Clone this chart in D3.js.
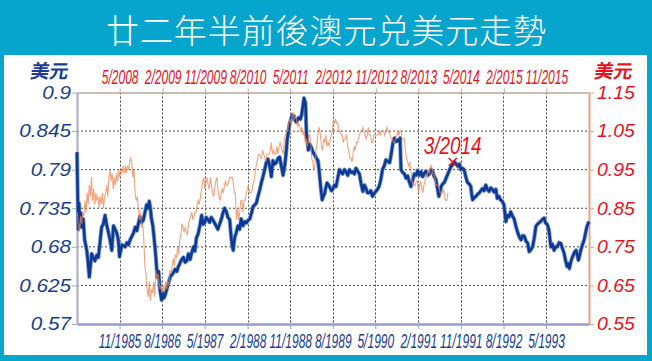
<!DOCTYPE html>
<html><head><meta charset="utf-8">
<script src="https://cdn.jsdelivr.net/npm/d3@7"></script>
<style>html,body{margin:0;padding:0;background:#06a5ce;}svg{display:block}</style>
</head><body>
<svg id="c" width="652" height="361"></svg>
<script>
// ---------- DATA ----------
const titleText = "廿二年半前後澳元兑美元走勢";
const unitLabel = "美元";
const leftTicks = [0.57, 0.625, 0.68, 0.735, 0.79, 0.845, 0.9];
const rightTicks = [0.55, 0.65, 0.75, 0.85, 0.95, 1.05, 1.15];
const bottomTickLabels = ["11/1985","8/1986","5/1987","2/1988","11/1988","8/1989","5/1990","2/1991","11/1991","8/1992","5/1993"];
const topTickLabels = ["5/2008","2/2009","11/2009","8/2010","5/2011","2/2012","11/2012","8/2013","5/2014","2/2015","11/2015"];
const bottomDomain = ["1985-02-01","1994-02-01"];
const topDomain = ["2007-08-01","2016-08-01"];
const markerLabel = "3/2014";
const markerDate = "2014-03-10";
const markerValue = 0.801;

// 1985-1994 series (left axis)
const blueDates = ["1985-02-01","1985-02-05","1985-02-09","1985-02-14","1985-02-19","1985-02-25","1985-03-03","1985-03-13","1985-03-22","1985-04-04","1985-04-12","1985-04-21","1985-04-28","1985-05-06","1985-05-16","1985-05-27","1985-06-08","1985-06-18","1985-06-28","1985-07-09","1985-07-20","1985-07-31","1985-08-10","1985-08-22","1985-09-01","1985-09-12","1985-09-23","1985-10-04","1985-10-14","1985-10-24","1985-11-01","1985-11-16","1985-12-07","1985-12-18","1985-12-28","1986-01-08","1986-01-19","1986-01-30","1986-02-10","1986-02-20","1986-03-01","1986-03-12","1986-03-22","1986-04-03","1986-04-14","1986-04-24","1986-05-04","1986-05-11","1986-05-18","1986-05-25","1986-06-03","1986-06-10","1986-06-22","1986-07-01","1986-07-10","1986-07-19","1986-07-29","1986-08-05","1986-08-13","1986-08-22","1986-09-01","1986-09-11","1986-09-22","1986-10-02","1986-10-13","1986-10-24","1986-11-04","1986-11-14","1986-11-25","1986-12-05","1986-12-16","1986-12-27","1987-01-07","1987-01-17","1987-01-28","1987-02-08","1987-02-19","1987-02-28","1987-03-10","1987-03-20","1987-04-01","1987-04-12","1987-04-21","1987-05-01","1987-05-11","1987-05-22","1987-06-02","1987-06-13","1987-06-24","1987-07-04","1987-07-14","1987-07-25","1987-08-05","1987-08-16","1987-08-27","1987-09-07","1987-09-18","1987-09-28","1987-10-09","1987-10-19","1987-10-25","1987-11-01","1987-11-10","1987-11-20","1987-12-01","1987-12-12","1987-12-22","1988-01-03","1988-01-14","1988-01-25","1988-02-05","1988-02-16","1988-02-26","1988-03-07","1988-03-18","1988-03-28","1988-04-08","1988-04-19","1988-04-30","1988-05-10","1988-05-21","1988-06-01","1988-06-11","1988-06-22","1988-07-03","1988-07-13","1988-07-24","1988-08-04","1988-08-14","1988-08-25","1988-09-05","1988-09-16","1988-09-28","1988-10-06","1988-10-13","1988-10-21","1988-10-28","1988-11-06","1988-11-13","1988-11-25","1988-12-03","1988-12-10","1988-12-25","1989-01-05","1989-01-13","1989-01-21","1989-01-28","1989-02-03","1989-02-07","1989-02-13","1989-02-19","1989-02-25","1989-03-06","1989-03-16","1989-03-27","1989-04-07","1989-04-18","1989-04-28","1989-05-05","1989-05-10","1989-05-18","1989-05-25","1989-06-02","1989-06-10","1989-06-18","1989-06-25","1989-07-05","1989-07-13","1989-07-23","1989-08-01","1989-08-12","1989-08-22","1989-09-02","1989-09-13","1989-09-24","1989-10-04","1989-10-15","1989-10-25","1989-11-05","1989-11-16","1989-11-27","1989-12-07","1989-12-18","1989-12-28","1990-01-08","1990-01-19","1990-01-30","1990-02-10","1990-02-20","1990-03-01","1990-03-12","1990-03-22","1990-04-02","1990-04-13","1990-04-24","1990-05-04","1990-05-15","1990-05-25","1990-06-05","1990-06-16","1990-06-27","1990-07-08","1990-07-19","1990-08-01","1990-08-11","1990-08-22","1990-09-01","1990-09-11","1990-09-22","1990-10-01","1990-10-07","1990-10-13","1990-10-24","1990-11-04","1990-11-14","1990-11-25","1990-12-06","1990-12-16","1990-12-27","1991-01-07","1991-01-18","1991-01-28","1991-02-08","1991-02-19","1991-03-01","1991-03-10","1991-03-22","1991-04-02","1991-04-13","1991-04-24","1991-05-04","1991-05-15","1991-05-25","1991-06-05","1991-06-13","1991-06-20","1991-06-28","1991-07-09","1991-07-19","1991-07-30","1991-08-10","1991-08-21","1991-09-01","1991-09-12","1991-09-22","1991-10-03","1991-10-13","1991-10-24","1991-11-01","1991-11-12","1991-11-22","1991-12-03","1991-12-13","1991-12-24","1992-01-04","1992-01-10","1992-01-16","1992-01-26","1992-02-06","1992-02-17","1992-02-28","1992-03-09","1992-03-19","1992-03-30","1992-04-09","1992-04-20","1992-05-01","1992-05-11","1992-05-22","1992-06-02","1992-06-13","1992-06-22","1992-07-03","1992-07-13","1992-07-24","1992-08-04","1992-08-10","1992-08-16","1992-08-27","1992-09-07","1992-09-16","1992-09-27","1992-10-08","1992-10-19","1992-11-01","1992-11-11","1992-11-22","1992-12-02","1992-12-13","1992-12-24","1993-01-04","1993-01-13","1993-01-24","1993-02-04","1993-02-14","1993-02-25","1993-03-06","1993-03-16","1993-03-27","1993-04-07","1993-04-19","1993-04-28","1993-05-09","1993-05-19","1993-06-01","1993-06-11","1993-06-22","1993-07-02","1993-07-13","1993-07-24","1993-08-04","1993-08-14","1993-08-25","1993-09-04","1993-09-13","1993-09-21","1993-09-28","1993-10-09","1993-10-19","1993-10-30","1993-11-10","1993-11-18","1993-11-25","1993-12-03","1993-12-10","1993-12-21","1994-01-01","1994-01-10","1994-01-19","1994-01-26","1994-02-01"];
const blueValues = [0.815,0.76,0.705,0.742,0.715,0.728,0.708,0.72,0.69,0.676,0.66,0.637,0.652,0.67,0.665,0.66,0.668,0.665,0.685,0.708,0.712,0.725,0.712,0.70,0.69,0.675,0.71,0.705,0.70,0.69,0.666,0.683,0.68,0.686,0.683,0.69,0.695,0.70,0.708,0.703,0.712,0.723,0.715,0.718,0.73,0.74,0.735,0.745,0.735,0.72,0.71,0.695,0.666,0.637,0.645,0.618,0.604,0.615,0.607,0.612,0.62,0.628,0.637,0.64,0.643,0.648,0.645,0.652,0.657,0.662,0.665,0.658,0.66,0.67,0.662,0.672,0.68,0.674,0.693,0.698,0.71,0.725,0.712,0.714,0.722,0.719,0.715,0.722,0.718,0.714,0.71,0.705,0.712,0.719,0.728,0.735,0.73,0.722,0.719,0.693,0.682,0.675,0.693,0.70,0.71,0.705,0.72,0.71,0.716,0.714,0.718,0.72,0.728,0.737,0.74,0.742,0.752,0.761,0.772,0.78,0.79,0.801,0.805,0.795,0.78,0.803,0.798,0.80,0.806,0.808,0.795,0.782,0.798,0.815,0.833,0.845,0.856,0.862,0.868,0.866,0.86,0.858,0.864,0.862,0.868,0.88,0.892,0.888,0.885,0.842,0.83,0.818,0.826,0.822,0.815,0.811,0.806,0.803,0.79,0.778,0.76,0.747,0.752,0.756,0.765,0.771,0.768,0.765,0.76,0.762,0.768,0.766,0.778,0.79,0.786,0.784,0.79,0.787,0.782,0.79,0.786,0.787,0.784,0.792,0.788,0.784,0.77,0.759,0.768,0.764,0.757,0.757,0.76,0.752,0.756,0.759,0.762,0.766,0.775,0.79,0.795,0.804,0.802,0.80,0.812,0.828,0.835,0.83,0.832,0.83,0.835,0.79,0.786,0.784,0.778,0.781,0.772,0.766,0.775,0.784,0.782,0.789,0.782,0.787,0.78,0.784,0.788,0.782,0.784,0.79,0.787,0.78,0.776,0.762,0.752,0.758,0.766,0.77,0.772,0.778,0.784,0.79,0.795,0.798,0.801,0.798,0.795,0.798,0.79,0.792,0.79,0.78,0.772,0.77,0.766,0.755,0.747,0.75,0.752,0.755,0.757,0.76,0.763,0.76,0.768,0.762,0.759,0.764,0.762,0.758,0.762,0.749,0.752,0.747,0.745,0.74,0.728,0.716,0.725,0.723,0.73,0.724,0.72,0.71,0.70,0.694,0.69,0.696,0.695,0.688,0.685,0.673,0.676,0.68,0.692,0.709,0.712,0.714,0.716,0.719,0.721,0.714,0.712,0.705,0.68,0.684,0.675,0.68,0.68,0.686,0.685,0.678,0.671,0.66,0.652,0.656,0.649,0.66,0.666,0.672,0.675,0.668,0.661,0.668,0.675,0.683,0.69,0.70,0.709,0.713,0.716];

// 2007-2014 series (right axis)
const orangeDates = ["2007-08-03","2007-08-10","2007-08-17","2007-08-24","2007-08-31","2007-09-07","2007-09-14","2007-09-21","2007-09-28","2007-10-05","2007-10-12","2007-10-19","2007-10-26","2007-11-02","2007-11-09","2007-11-16","2007-11-23","2007-11-30","2007-12-07","2007-12-14","2007-12-21","2007-12-28","2008-01-04","2008-01-11","2008-01-18","2008-01-25","2008-02-01","2008-02-08","2008-02-15","2008-02-22","2008-02-29","2008-03-07","2008-03-14","2008-03-21","2008-03-28","2008-04-04","2008-04-11","2008-04-18","2008-04-25","2008-05-02","2008-05-09","2008-05-16","2008-05-23","2008-05-30","2008-06-06","2008-06-13","2008-06-20","2008-06-27","2008-07-04","2008-07-11","2008-07-18","2008-07-25","2008-08-01","2008-08-08","2008-08-15","2008-08-22","2008-08-29","2008-09-05","2008-09-12","2008-09-19","2008-09-26","2008-10-03","2008-10-10","2008-10-17","2008-10-24","2008-10-31","2008-11-07","2008-11-14","2008-11-21","2008-11-28","2008-12-05","2008-12-12","2008-12-19","2008-12-26","2009-01-02","2009-01-09","2009-01-16","2009-01-23","2009-01-30","2009-02-06","2009-02-13","2009-02-20","2009-02-27","2009-03-06","2009-03-13","2009-03-20","2009-03-27","2009-04-03","2009-04-10","2009-04-17","2009-04-24","2009-05-01","2009-05-08","2009-05-15","2009-05-22","2009-05-29","2009-06-05","2009-06-12","2009-06-19","2009-06-26","2009-07-03","2009-07-10","2009-07-17","2009-07-24","2009-07-31","2009-08-07","2009-08-14","2009-08-21","2009-08-28","2009-09-04","2009-09-11","2009-09-18","2009-09-25","2009-10-02","2009-10-09","2009-10-16","2009-10-23","2009-10-30","2009-11-06","2009-11-13","2009-11-20","2009-11-27","2009-12-04","2009-12-11","2009-12-18","2009-12-25","2010-01-01","2010-01-08","2010-01-15","2010-01-22","2010-01-29","2010-02-05","2010-02-12","2010-02-19","2010-02-26","2010-03-05","2010-03-12","2010-03-19","2010-03-26","2010-04-02","2010-04-09","2010-04-16","2010-04-23","2010-04-30","2010-05-07","2010-05-14","2010-05-21","2010-05-28","2010-06-04","2010-06-11","2010-06-18","2010-06-25","2010-07-02","2010-07-09","2010-07-16","2010-07-23","2010-07-30","2010-08-06","2010-08-13","2010-08-20","2010-08-27","2010-09-03","2010-09-10","2010-09-17","2010-09-24","2010-10-01","2010-10-08","2010-10-15","2010-10-22","2010-10-29","2010-11-05","2010-11-12","2010-11-19","2010-11-26","2010-12-03","2010-12-10","2010-12-17","2010-12-24","2010-12-31","2011-01-07","2011-01-14","2011-01-21","2011-01-28","2011-02-04","2011-02-11","2011-02-18","2011-02-25","2011-03-04","2011-03-11","2011-03-18","2011-03-25","2011-04-01","2011-04-08","2011-04-15","2011-04-22","2011-04-29","2011-05-06","2011-05-13","2011-05-20","2011-05-27","2011-06-03","2011-06-10","2011-06-17","2011-06-24","2011-07-01","2011-07-08","2011-07-15","2011-07-22","2011-07-29","2011-08-05","2011-08-12","2011-08-19","2011-08-26","2011-09-02","2011-09-09","2011-09-16","2011-09-23","2011-09-30","2011-10-07","2011-10-14","2011-10-21","2011-10-28","2011-11-04","2011-11-11","2011-11-18","2011-11-25","2011-12-02","2011-12-09","2011-12-16","2011-12-23","2011-12-30","2012-01-06","2012-01-13","2012-01-20","2012-01-27","2012-02-03","2012-02-10","2012-02-17","2012-02-24","2012-03-02","2012-03-09","2012-03-16","2012-03-23","2012-03-30","2012-04-06","2012-04-13","2012-04-20","2012-04-27","2012-05-04","2012-05-11","2012-05-18","2012-05-25","2012-06-01","2012-06-08","2012-06-15","2012-06-22","2012-06-29","2012-07-06","2012-07-13","2012-07-20","2012-07-27","2012-08-03","2012-08-10","2012-08-17","2012-08-24","2012-08-31","2012-09-07","2012-09-14","2012-09-21","2012-09-28","2012-10-05","2012-10-12","2012-10-19","2012-10-26","2012-11-02","2012-11-09","2012-11-16","2012-11-23","2012-11-30","2012-12-07","2012-12-14","2012-12-21","2012-12-28","2013-01-04","2013-01-11","2013-01-18","2013-01-25","2013-02-01","2013-02-08","2013-02-15","2013-02-22","2013-03-01","2013-03-08","2013-03-15","2013-03-22","2013-03-29","2013-04-05","2013-04-12","2013-04-19","2013-04-26","2013-05-03","2013-05-10","2013-05-17","2013-05-24","2013-05-31","2013-06-07","2013-06-14","2013-06-21","2013-06-28","2013-07-05","2013-07-12","2013-07-19","2013-07-26","2013-08-02","2013-08-09","2013-08-16","2013-08-23","2013-08-30","2013-09-06","2013-09-13","2013-09-20","2013-09-27","2013-10-04","2013-10-11","2013-10-18","2013-10-25","2013-11-01","2013-11-08","2013-11-15","2013-11-22","2013-11-29","2013-12-06","2013-12-13","2013-12-20","2013-12-27","2014-01-03","2014-01-10","2014-01-17","2014-01-24","2014-01-31","2014-02-07"];
const orangeValues = [0.84,0.80,0.79,0.83,0.81,0.84,0.83,0.87,0.84,0.89,0.86,0.91,0.88,0.93,0.87,0.90,0.86,0.89,0.87,0.88,0.85,0.88,0.86,0.89,0.85,0.88,0.89,0.91,0.88,0.93,0.95,0.92,0.94,0.90,0.93,0.91,0.94,0.92,0.95,0.93,0.95,0.94,0.96,0.94,0.96,0.94,0.96,0.95,0.97,0.98,0.97,0.93,0.95,0.89,0.87,0.88,0.85,0.82,0.84,0.80,0.81,0.77,0.70,0.68,0.64,0.62,0.66,0.61,0.64,0.63,0.66,0.62,0.69,0.67,0.68,0.66,0.64,0.65,0.63,0.65,0.64,0.66,0.64,0.66,0.65,0.69,0.68,0.70,0.72,0.70,0.73,0.72,0.75,0.73,0.77,0.78,0.81,0.80,0.79,0.80,0.79,0.78,0.81,0.82,0.83,0.84,0.82,0.83,0.84,0.84,0.86,0.87,0.86,0.88,0.90,0.92,0.93,0.90,0.92,0.93,0.91,0.90,0.93,0.91,0.89,0.88,0.90,0.92,0.93,0.90,0.88,0.87,0.89,0.90,0.89,0.91,0.92,0.91,0.91,0.92,0.93,0.93,0.93,0.92,0.89,0.89,0.82,0.85,0.82,0.84,0.87,0.87,0.84,0.87,0.87,0.89,0.90,0.91,0.89,0.89,0.89,0.91,0.92,0.94,0.96,0.97,0.99,0.99,0.98,0.98,1.00,0.99,0.98,0.97,0.99,0.99,0.99,1.00,1.02,0.99,1.00,0.99,0.99,1.01,0.99,1.01,1.02,1.01,1.00,0.99,1.03,1.04,1.05,1.05,1.07,1.08,1.07,1.09,1.10,1.08,1.09,1.08,1.06,1.07,1.06,1.05,1.06,1.04,1.05,1.02,1.03,1.01,1.03,1.04,1.03,0.98,0.97,0.95,0.96,1.00,1.02,1.05,1.06,1.04,1.01,1.00,1.03,1.02,1.04,1.01,1.02,1.01,1.03,1.04,1.05,1.08,1.07,1.08,1.07,1.07,1.05,1.05,1.04,1.04,1.02,1.03,1.03,1.04,1.01,1.00,0.98,0.98,0.97,0.99,1.01,1.00,1.02,1.02,1.03,1.04,1.05,1.05,1.06,1.05,1.04,1.03,1.04,1.06,1.04,1.04,1.02,1.02,1.04,1.04,1.04,1.04,1.04,1.05,1.04,1.05,1.05,1.05,1.04,1.05,1.06,1.05,1.05,1.04,1.03,1.03,1.02,1.02,1.03,1.04,1.05,1.04,1.05,1.05,1.03,1.03,1.03,1.00,0.98,0.97,0.96,0.97,0.95,0.92,0.91,0.91,0.91,0.92,0.92,0.89,0.91,0.92,0.90,0.89,0.91,0.92,0.94,0.93,0.95,0.94,0.96,0.96,0.94,0.94,0.93,0.91,0.91,0.91,0.90,0.89,0.89,0.89,0.90,0.88,0.87,0.87,0.89];

// ---------- DRAW ----------
const W = 652, H = 361;
const P = {l: 77, r: 589, t: 92.5, b: 324};
const parse = d3.timeParse("%Y-%m-%d");
const mparse = s => { const [m, y] = s.split("/").map(Number); return new Date(y, m - 1, 1); };

const xB = d3.scaleTime().domain(bottomDomain.map(parse)).range([P.l, P.r]);
const xT = d3.scaleTime().domain(topDomain.map(parse)).range([P.l, P.r]);
const yL = d3.scaleLinear().domain([0.57, 0.9]).range([P.b, P.t]);
const yR = d3.scaleLinear().domain([0.55, 1.15]).range([P.b, P.t]);

const BLUE_TXT = "#1b3d8f", RED_TXT = "#e5141e";
const FONT = "'Liberation Sans',Arial,sans-serif";
const CJK = "'Noto Sans CJK TC','Noto Sans CJK SC',sans-serif";
const svg = d3.select("#c");
svg.append("rect").attr("width", W).attr("height", H).attr("fill", "#06a5ce");
svg.append("rect").attr("x", 4).attr("y", 55).attr("width", 643).attr("height", 300).attr("fill", "#ffffff");

svg.append("text").attr("x", 326).attr("y", 29).attr("text-anchor", "middle")
  .attr("dominant-baseline", "central")
  .style("font-family", CJK).style("font-weight", 300).style("font-size", "33px")
  .attr("textLength", 440).attr("lengthAdjust", "spacing")
  .attr("fill", "#fff").text(titleText);

// grid
const grid = svg.append("g");
leftTicks.slice(1, -1).forEach(v => {
  grid.append("line").attr("x1", P.l).attr("x2", P.r).attr("y1", yL(v)).attr("y2", yL(v))
    .attr("stroke", "#4a4a4a").attr("stroke-width", 1).attr("stroke-dasharray", "2,2");
});
bottomTickLabels.forEach(s => {
  const x = Math.round(xB(mparse(s))) + 0.5;
  grid.append("line").attr("x1", x).attr("x2", x).attr("y1", P.t).attr("y2", P.b)
    .attr("stroke", "#4a4a4a").attr("stroke-width", 1).attr("stroke-dasharray", "2,2");
});

// axes
function styleAxis(g, color, textColor, fs) {
  g.select(".domain").attr("stroke", color);
  g.selectAll(".tick line").attr("stroke", color);
  g.selectAll(".tick text").attr("fill", textColor)
    .style("font-family", FONT).style("font-style", "italic").style("font-size", fs + "px");
}
// horizontally scale tick labels about their own anchor point
function scaleX(g, sx) {
  g.selectAll(".tick text").each(function() {
    const t = d3.select(this);
    const x0 = +t.attr("x") || 0;
    t.attr("x", x0 / sx).attr("transform", `scale(${sx},1)`);
  });
}

const gB = svg.append("g").attr("transform", `translate(0,${P.b})`)
  .call(d3.axisBottom(xB).tickValues(bottomTickLabels.map(mparse))
    .tickFormat((d, i) => bottomTickLabels[i]).tickSize(5).tickSizeOuter(0).tickPadding(5));
styleAxis(gB, "#9b9bcb", BLUE_TXT, 20);
gB.select(".domain").attr("stroke-width", 2.5);
scaleX(gB, 0.6);

const gT = svg.append("g").attr("transform", `translate(0,${P.t})`)
  .call(d3.axisTop(xT).tickValues(topTickLabels.map(mparse))
    .tickFormat((d, i) => topTickLabels[i]).tickSize(4).tickSizeOuter(0).tickPadding(5));
styleAxis(gT, "#b8a898", RED_TXT, 20);
gT.select(".domain").attr("stroke-width", 1.5);
scaleX(gT, 0.6);

const gL = svg.append("g").attr("transform", `translate(${P.l},0)`)
  .call(d3.axisLeft(yL).tickValues(leftTicks).tickFormat(d => String(d))
    .tickSize(5).tickSizeOuter(0).tickPadding(1));
styleAxis(gL, "#a9a9c9", BLUE_TXT, 18);
gL.select(".domain").attr("stroke-width", 2);
scaleX(gL, 1.15);

const gR = svg.append("g").attr("transform", `translate(${P.r},0)`)
  .call(d3.axisRight(yR).tickValues(rightTicks).tickFormat(d3.format(".2f"))
    .tickSize(5).tickSizeOuter(0).tickPadding(3));
styleAxis(gR, "#e3a581", RED_TXT, 18);
gR.select(".domain").attr("stroke-width", 2);
scaleX(gR, 1.08);

// unit labels
[[50, BLUE_TXT], [614, RED_TXT]].forEach(([x, c]) => {
  svg.append("text").attr("x", x).attr("y", 70).attr("text-anchor", "middle")
    .attr("dominant-baseline", "central")
    .attr("transform", `skewX(-10) translate(${70 * Math.tan(10 * Math.PI / 180)},0)`)
    .style("font-family", CJK).style("font-weight", 700).style("font-size", "19px")
    .attr("fill", c).text(unitLabel);
});

// lines
const blueData = blueDates.map((d, i) => ({x: xB(parse(d)), y: yL(blueValues[i])}));
const orangeData = orangeDates.map((d, i) => ({x: xT(parse(d)), y: yR(orangeValues[i])}));
const lg = d3.line().x(d => d.x).y(d => d.y);
svg.append("path").attr("d", lg(blueData)).attr("fill", "none")
  .attr("stroke", "#7f9bd3").attr("stroke-width", 4.2).attr("stroke-linejoin", "round");
svg.append("path").attr("d", lg(blueData)).attr("fill", "none")
  .attr("stroke", "#0c3a92").attr("stroke-width", 2.6).attr("stroke-linejoin", "round");
svg.append("path").attr("d", lg(orangeData)).attr("fill", "none")
  .attr("stroke", "#ee8452").attr("stroke-width", 1.1).attr("opacity", 0.75);

// marker
const mx = xT(parse(markerDate)), my = yL(markerValue);
svg.append("path").attr("d", `M${mx-4},${my-4}L${mx+4},${my+4}M${mx-4},${my+4}L${mx+4},${my-4}`)
  .attr("stroke", RED_TXT).attr("stroke-width", 1.5);
svg.append("text").attr("x", mx - 29).attr("y", my - 8)
  .attr("transform", `scale(0.82,1)`).attr("x", (mx - 29) / 0.82)
  .style("font-family", FONT).style("font-style", "italic")
  .style("font-size", "23px").attr("fill", RED_TXT).text(markerLabel);
</script>
</body></html>
